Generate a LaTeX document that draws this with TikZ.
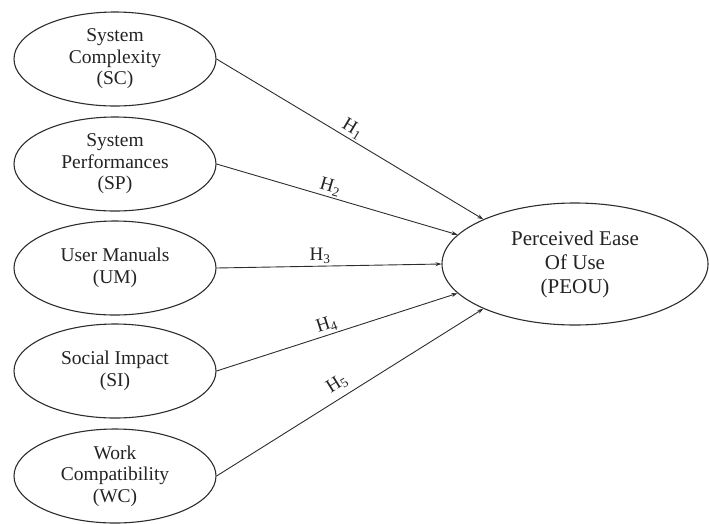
\documentclass[tikz,border=0pt]{standalone}
\usepackage{fontspec}
\setmainfont{Liberation Serif}
\usepackage{tikz}
\usetikzlibrary{shapes.geometric, arrows.meta, positioning}
\definecolor{clrLn}{RGB}{45,45,45}
\definecolor{clrTx}{RGB}{35,35,35}
\tikzset{
  facnode/.style={ellipse, draw=clrLn, line width=1.1pt, minimum width=202pt, minimum height=94pt,
    inner sep=0pt, align=center, text=clrTx, font=\fontsize{19.5}{21.5}\selectfont},
  outnode/.style={ellipse, draw=clrLn, line width=1.1pt, minimum width=266pt, minimum height=122pt,
    inner sep=0pt, align=center, text=clrTx, font=\fontsize{21}{24}\selectfont},
  arr/.style={-{Stealth[length=6pt,width=4pt]}, line width=0.9pt, color=clrLn},
  hyplbl/.style={font=\fontsize{19}{22}\selectfont, text=clrTx, inner sep=2pt},
}
\begin{document}
\begin{tikzpicture}[x=1pt, y=-1pt]
\useasboundingbox (0,0) rectangle (709,523);
\node[facnode] (sc) at (115,59)  {System\\Complexity\\(SC)};
\node[facnode] (sp) at (115,164) {System\\Performances\\(SP)};
\node[facnode] (um) at (115,268) {User Manuals\\(UM)};
\node[facnode] (si) at (115,371) {Social Impact\\(SI)};
\node[facnode] (wc) at (115,476) {Work\\Compatibility\\(WC)};
\node[outnode] (peou) at (575,264) {Perceived Ease\\Of Use\\(PEOU)};
\draw[arr] (sc.east) -- node[hyplbl, sloped, above, pos=0.49] {H\textsubscript{1}} (peou.154);
\draw[arr] (sp.east) -- node[hyplbl, sloped, above, pos=0.46] {H\textsubscript{2}} (peou.166);
\draw[arr] (um.east) -- node[hyplbl, above, pos=0.46] {H\textsubscript{3}} (peou.west);
\draw[arr] (si.east) -- node[hyplbl, sloped, above, pos=0.47] {H\textsubscript{4}} (peou.194);
\draw[arr] (wc.east) -- node[hyplbl, sloped, above=4pt, pos=0.48] {H\textsubscript{5}} (peou.206);
\end{tikzpicture}
\end{document}
